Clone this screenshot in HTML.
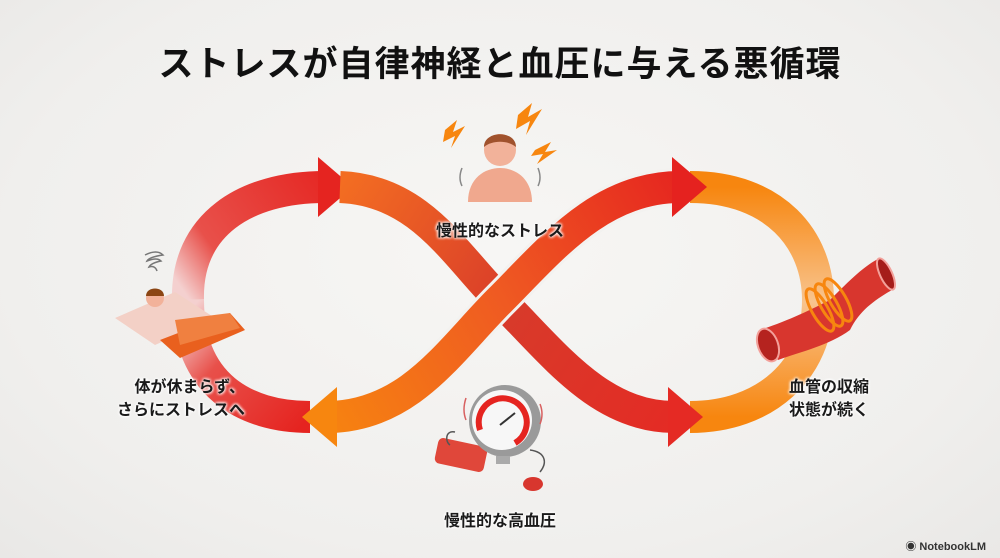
<!DOCTYPE html>
<html><head><meta charset="utf-8">
<style>
html,body{margin:0;padding:0;}
body{width:1000px;height:558px;overflow:hidden;background:radial-gradient(ellipse at 50% 45%,#f7f6f4 0%,#f0efed 70%,#e9e8e6 100%);font-family:"Liberation Sans","Noto Sans CJK JP",sans-serif;position:relative;}
.t{position:absolute;font-weight:bold;color:#1a1a1a;white-space:nowrap;}
.lbl{font-size:16px;text-shadow:0 0 3px #fff,0 0 3px #fff,0 0 3px #fff;}
</style></head><body>
<div class="t" style="left:0;width:1000px;top:36px;text-align:center;font-size:35px;letter-spacing:1px;color:#111;">ストレスが自律神経と血圧に与える悪循環</div>
<svg width="1000" height="558" style="position:absolute;left:0;top:0" xmlns="http://www.w3.org/2000/svg">
<defs>
<linearGradient id="gA" gradientUnits="userSpaceOnUse" x1="190" y1="300" x2="350" y2="187"><stop offset="0" stop-color="#f4d0cf"/><stop offset="0.25" stop-color="#e8504a"/><stop offset="1" stop-color="#e52420"/></linearGradient>
<linearGradient id="gD" gradientUnits="userSpaceOnUse" x1="190" y1="310" x2="310" y2="417"><stop offset="0" stop-color="#f4d0cf"/><stop offset="0.35" stop-color="#e8504a"/><stop offset="1" stop-color="#e52420"/></linearGradient>
<linearGradient id="gB" gradientUnits="userSpaceOnUse" x1="340" y1="187" x2="700" y2="417"><stop offset="0" stop-color="#f36d22"/><stop offset="0.5" stop-color="#d83a2a"/><stop offset="1" stop-color="#e52a24"/></linearGradient>
<linearGradient id="gC" gradientUnits="userSpaceOnUse" x1="303" y1="417" x2="705" y2="187"><stop offset="0" stop-color="#f7860f"/><stop offset="0.5" stop-color="#ef5a22"/><stop offset="1" stop-color="#e5221f"/></linearGradient>
<linearGradient id="gE" gradientUnits="userSpaceOnUse" x1="700" y1="187" x2="700" y2="417"><stop offset="0" stop-color="#f7860f"/><stop offset="0.5" stop-color="#f8c48e"/><stop offset="1" stop-color="#f7860f"/></linearGradient>
</defs>
<path d="M690,187 C775,187 818,240 818,300 C818,370 765,417 690,417" fill="none" stroke="url(#gE)" stroke-width="32"/>
<path d="M188,300 C186,225 245,187 325,187" fill="none" stroke="url(#gA)" stroke-width="32"/>
<polygon points="318,157 353,187 318,217" fill="#e52420"/>
<path d="M188,300 C188,385 245,417 310,417" fill="none" stroke="url(#gD)" stroke-width="32"/>
<path d="M340,187 C420,190 455,255 500,300 C555,355 600,417 675,417" fill="none" stroke="url(#gB)" stroke-width="32"/>
<polygon points="668,387 703,417 668,447" fill="#e52a24"/>
<path d="M330,417 C410,415 450,350 500,300 C550,250 600,187 680,187" fill="none" stroke="#f3f2f0" stroke-width="38"/>
<path d="M330,417 C410,415 450,350 500,300 C550,250 600,187 680,187" fill="none" stroke="url(#gC)" stroke-width="32"/>
<polygon points="337,387 302,417 337,447" fill="#f7860f"/>
<polygon points="672,157 707,187 672,217" fill="#e5221f"/>

<g>
<path d="M468,202 C468,178 485,168 500,168 C515,168 532,178 532,202 Z" fill="#f0a88e"/>
<circle cx="500" cy="150" r="16" fill="#f2b29a"/>
<path d="M484,147 C484,130 516,130 516,147 C508,140 492,140 484,147Z" fill="#a0522d"/>
<path d="M445,130 l12,-10 -4,12 12,-6 -14,22 4,-12 -12,6z" fill="#f7860f"/>
<path d="M518,115 l14,-12 -4,14 14,-8 -16,26 4,-14 -14,8z" fill="#f7860f"/>
<path d="M535,150 l16,-8 -6,10 12,-2 -20,14 6,-10 -12,2z" fill="#f7860f"/>
<path d="M462,168 q-4,10 0,18 M538,168 q4,10 0,18" stroke="#888" stroke-width="1.5" fill="none"/>
</g>
<g>
<polygon points="115,318 175,292 215,318 155,345" fill="#f3d0c6"/>
<polygon points="160,340 230,313 245,330 180,358" fill="#e9601e"/>
<polygon points="175,320 230,313 240,328 180,345" fill="#f08040"/>
<circle cx="155" cy="298" r="9" fill="#f2b29a"/>
<path d="M146,296 C146,286 164,286 164,296Z" fill="#8b4513"/>
<path d="M145,255 q12,-6 18,0 q-14,2 -16,6 q10,-4 14,0 q-10,2 -12,6 q6,-2 8,4" stroke="#777" stroke-width="1.5" fill="none"/>
</g>
<g>
<path d="M760,330 C790,320 810,310 830,300 C850,280 865,265 880,258 L892,290 C875,300 860,310 850,330 C830,345 800,352 778,360 Z" fill="#d8362e"/>
<ellipse cx="768" cy="345" rx="10" ry="17" fill="#b5231f" stroke="#f3a09a" stroke-width="2" transform="rotate(-20 768 345)"/>
<ellipse cx="886" cy="274" rx="6" ry="17" fill="#a51d1a" stroke="#f3a09a" stroke-width="2" transform="rotate(-25 886 274)"/>
<g fill="none" stroke="#f7860f" stroke-width="3">
<ellipse cx="820" cy="310" rx="8" ry="24" transform="rotate(-30 820 310)"/>
<ellipse cx="829" cy="305" rx="8" ry="24" transform="rotate(-30 829 305)"/>
<ellipse cx="838" cy="300" rx="8" ry="24" transform="rotate(-30 838 300)"/>
</g>
</g>
<g>
<rect x="436" y="442" width="50" height="26" rx="5" fill="#e0473a" transform="rotate(12 461 455)"/>
<path d="M455,432 C445,430 445,442 450,445" stroke="#555" fill="none" stroke-width="1.5"/>
<path d="M530,450 C545,452 548,462 540,472" stroke="#555" fill="none" stroke-width="1.5"/>
<ellipse cx="533" cy="484" rx="10" ry="7" fill="#d8362e"/>
<circle cx="505" cy="421" r="36" fill="#9a9a9a"/>
<circle cx="502" cy="420" r="30" fill="#f7f7f7"/>
<path d="M480,430 A24,24 0 1 1 515,443" fill="none" stroke="#e52420" stroke-width="6"/>
<line x1="500" y1="425" x2="515" y2="413" stroke="#333" stroke-width="2"/>
<rect x="496" y="456" width="14" height="8" fill="#aaa"/>
<path d="M466,398 q-4,12 0,22 M540,404 q4,10 0,20" stroke="#d86060" stroke-width="1.5" fill="none"/>
</g>
</svg>
<div class="t lbl" style="left:400px;width:200px;top:217px;text-align:center;">慢性的なストレス</div>
<div class="t lbl" style="left:60px;width:185px;top:376px;text-align:right;line-height:23px;">体が休まらず、<br>さらにストレスへ</div>
<div class="t lbl" style="left:789px;top:376px;line-height:23px;">血管の収縮<br>状態が続く</div>
<div class="t lbl" style="left:400px;width:200px;top:507px;text-align:center;">慢性的な高血圧</div>
<div class="t" style="right:14px;top:538px;font-size:11px;color:#333;">◉ NotebookLM</div>
</body></html>
